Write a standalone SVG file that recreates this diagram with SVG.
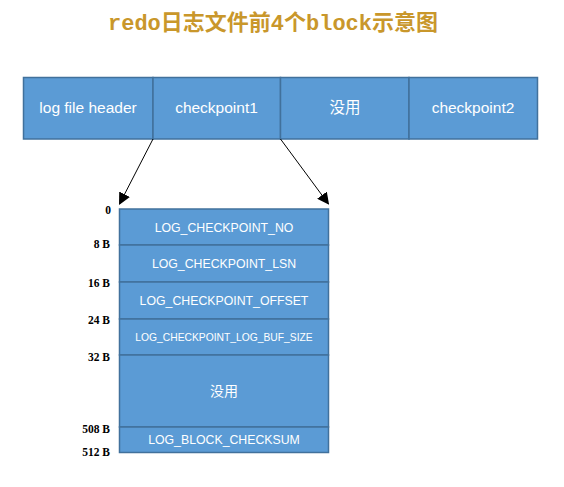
<svg xmlns="http://www.w3.org/2000/svg" width="564" height="487" viewBox="0 0 564 487">
<style>
.box{fill:#5B9BD5;stroke:#41719C;stroke-width:1.5}
.t{font-family:"Liberation Sans","Noto Sans CJK SC",sans-serif;fill:#fff;text-anchor:middle}
.top{font-size:15.5px}
.row{font-size:12.3px}
.off{font-family:"Liberation Serif",serif;font-weight:bold;font-size:11.5px;fill:#000;text-anchor:end}
.title{font-family:"Liberation Mono","Noto Sans CJK SC",monospace;font-weight:bold;font-size:22px;fill:#C9972B}
.conn{stroke:#000;stroke-width:1;fill:none}
</style>
<defs>
<marker id="ah" markerWidth="12" markerHeight="12" refX="11" refY="6" orient="auto" markerUnits="userSpaceOnUse" viewBox="0 0 12 12">
<path d="M0,0 L12,6 L0,12 z" fill="#000"/>
</marker>
</defs>
<text class="title" x="108" y="30">redo日志文件前4个block示意图</text>
<g id="top-log-file-header"><rect class="box" x="23.5" y="77.5" width="129.5" height="61.5"/><text class="t top" x="88" y="113">log file header</text></g>
<g id="top-checkpoint1"><rect class="box" x="153" y="77.5" width="127.5" height="61.5"/><text class="t top" x="216.5" y="113">checkpoint1</text></g>
<g id="top-unused"><rect class="box" x="280.5" y="77.5" width="128.5" height="61.5"/><text class="t top" x="345" y="113">没用</text></g>
<g id="top-checkpoint2"><rect class="box" x="409" y="77.5" width="128.5" height="61.5"/><text class="t top" x="473" y="113">checkpoint2</text></g>
<g id="connectors">
<line class="conn" x1="153" y1="139" x2="119.5" y2="204" marker-end="url(#ah)"/>
<line class="conn" x1="280.5" y1="139" x2="328.5" y2="204" marker-end="url(#ah)"/>
</g>
<g id="row-no"><rect class="box" x="119.5" y="209" width="209" height="36"/><text class="t row" x="224" y="232">LOG_CHECKPOINT_NO</text></g>
<g id="row-lsn"><rect class="box" x="119.5" y="245" width="209" height="37"/><text class="t row" x="224" y="268">LOG_CHECKPOINT_LSN</text></g>
<g id="row-offset"><rect class="box" x="119.5" y="282" width="209" height="37"/><text class="t row" x="224" y="305">LOG_CHECKPOINT_OFFSET</text></g>
<g id="row-bufsize"><rect class="box" x="119.5" y="319" width="209" height="36"/><text class="t" style="font-size:10.3px" x="224" y="341">LOG_CHECKPOINT_LOG_BUF_SIZE</text></g>
<g id="row-unused"><rect class="box" x="119.5" y="355" width="209" height="72"/><text class="t" style="font-size:14px" x="224" y="396">没用</text></g>
<g id="row-checksum"><rect class="box" x="119.5" y="427" width="209" height="25.5"/><text class="t row" x="224" y="444">LOG_BLOCK_CHECKSUM</text></g>
<g id="offsets">
<text class="off" x="111" y="214">0</text>
<text class="off" x="110" y="248">8 B</text>
<text class="off" x="110" y="287">16 B</text>
<text class="off" x="110" y="324">24 B</text>
<text class="off" x="110" y="361">32 B</text>
<text class="off" x="110" y="433">508 B</text>
<text class="off" x="110" y="456">512 B</text>
</g>
</svg>
